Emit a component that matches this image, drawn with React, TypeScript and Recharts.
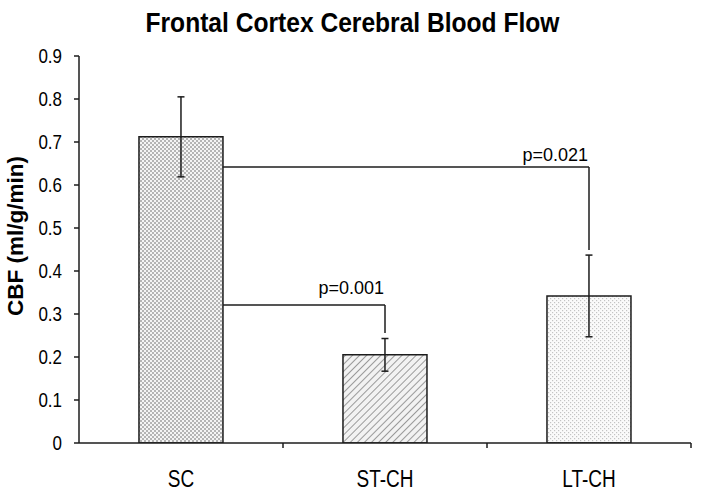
import React from 'react';
import { BarChart, Bar, XAxis, YAxis, ErrorBar, Cell, ReferenceLine } from 'recharts';

// ---- data ----
const categories = ['SC', 'ST-CH', 'LT-CH'];
const cbfMean = [0.712, 0.205, 0.342];
const cbfErr = [0.093, 0.038, 0.095];
const yTicks = [0, 0.1, 0.2, 0.3, 0.4, 0.5, 0.6, 0.7, 0.8, 0.9];
const pLabels = ['p=0.001', 'p=0.021'];
const bracketFrom = [0, 0];
const bracketTo = [1, 2];
const bracketLevel = [0.321, 0.642];
const bracketDrop = [0.256, 0.449];

// pos = slot centre of each category on a 0..n band scale
const data = categories.map((name, i) => ({ name, pos: i + 0.5, cbf: cbfMean[i], err: cbfErr[i] }));

// ---- styles ----
const BAR_GAP = 0.294;
const FONT = '"Liberation Sans", Arial, Helvetica, sans-serif';
const INK = '#1c1c1c';
const patternIds = ['patSC', 'patST', 'patLT'];
const labelDy = [-11, -6];

const XTick = (props: any) => {
  const { x, y, payload } = props;
  const half =
    payload && payload.offset ? payload.offset : props.width / (2 * (props.visibleTicksCount || 3));
  return (
    <g>
      <line x1={x + half} y1={y} x2={x + half} y2={y + 5} stroke={INK} strokeWidth={1.5} />
      <text
        transform={`translate(${x},${y + 44}) scale(1,1.3)`}
        textAnchor="middle"
        fontFamily={FONT}
        fontSize={19}
        fill="#000"
      >
        {payload.value}
      </text>
    </g>
  );
};

const YTick = (props: any) => {
  const { x, y, payload } = props;
  return (
    <text
      transform={`translate(${x},${y}) scale(1,1.15)`}
      textAnchor="end"
      dy="0.36em"
      fontFamily={FONT}
      fontSize={17}
      fill="#000"
    >
      {payload.value}
    </text>
  );
};

const PLabel = (props: any) => {
  const { viewBox, text, dy } = props;
  if (!viewBox) return null;
  return (
    <text
      x={viewBox.x + viewBox.width - 1}
      y={viewBox.y + dy}
      textAnchor="end"
      fontFamily={FONT}
      fontSize={18}
      fill="#000"
    >
      {text}
    </text>
  );
};

export default function App() {
  return (
    <div style={{ position: 'absolute', left: 0, top: 0, width: 701, height: 494, background: '#fff' }}>
      <BarChart
        width={701}
        height={494}
        data={data}
        margin={{ top: 56, right: 10, bottom: 0, left: 19 }}
        barCategoryGap={`${BAR_GAP * 100}%`}
      >
        <defs>
          <pattern id="patSC" patternUnits="userSpaceOnUse" width="4" height="4">
            <rect width="4" height="4" fill="#f4f4f4" />
            <rect x="0" y="0" width="2" height="2" fill="#b4b4b4" />
            <rect x="2" y="2" width="2" height="2" fill="#b4b4b4" />
          </pattern>
          <pattern id="patST" patternUnits="userSpaceOnUse" width="5" height="5" patternTransform="rotate(45)">
            <rect width="5" height="5" fill="#f2f2f2" />
            <line x1="0" y1="0" x2="0" y2="5" stroke="#9a9a9a" strokeWidth="2" />
          </pattern>
          <pattern id="patLT" patternUnits="userSpaceOnUse" width="4" height="4">
            <rect width="4" height="4" fill="#fbfbfb" />
            <rect x="0" y="0" width="1.2" height="1.2" fill="#c4c4c4" />
            <rect x="2" y="2" width="1.2" height="1.2" fill="#c4c4c4" />
          </pattern>
        </defs>
        <XAxis
          xAxisId="cat"
          dataKey="name"
          height={51}
          axisLine={{ stroke: INK, strokeWidth: 1.5 }}
          tickLine={false}
          tickSize={0}
          tickMargin={0}
          tick={<XTick />}
          interval={0}
        />
        <XAxis
          xAxisId="num"
          dataKey="pos"
          type="number"
          scale="linear"
          domain={[0, categories.length]}
          hide
          allowDataOverflow
        />
        <YAxis
          width={60}
          domain={[0, 0.9]}
          ticks={yTicks}
          interval={0}
          allowDataOverflow
          axisLine={{ stroke: INK, strokeWidth: 1.5 }}
          tickLine={{ stroke: INK, strokeWidth: 1.5 }}
          tickSize={5}
          tickMargin={12}
          tick={<YTick />}
        />
        <Bar
          xAxisId="cat"
          dataKey="cbf"
          stroke={INK}
          strokeWidth={1.5}
          isAnimationActive={false}
        >
          {data.map((d, i) => (
            <Cell key={d.name} fill={`url(#${patternIds[i]})`} />
          ))}
          <ErrorBar dataKey="err" width={3.5} stroke={INK} strokeWidth={1.5} direction="y" isAnimationActive={false} />
        </Bar>
        {pLabels.map((txt, i) => {
          const xStart = bracketFrom[i] + 1 - BAR_GAP;
          const xEnd = bracketTo[i] + 0.5;
          return (
            <ReferenceLine
              key={`h${i}`}
              xAxisId="num"
              segment={[
                { x: xStart, y: bracketLevel[i] },
                { x: xEnd, y: bracketLevel[i] },
              ]}
              stroke={INK}
              strokeWidth={1.5}
              ifOverflow="visible"
              label={<PLabel text={txt} dy={labelDy[i]} />}
            />
          );
        })}
        {pLabels.map((txt, i) => {
          const xEnd = bracketTo[i] + 0.5;
          return (
            <ReferenceLine
              key={`v${i}`}
              xAxisId="num"
              segment={[
                { x: xEnd, y: bracketLevel[i] },
                { x: xEnd, y: bracketDrop[i] },
              ]}
              stroke={INK}
              strokeWidth={1.5}
              ifOverflow="visible"
            />
          );
        })}
      </BarChart>
      <svg
        width={701}
        height={494}
        style={{ position: 'absolute', left: 0, top: 0, pointerEvents: 'none' }}
      >
        <text
          transform="translate(352.5,32) scale(1,1.13)"
          textAnchor="middle"
          fontFamily={FONT}
          fontWeight="bold"
          fontSize={24.6}
          fill="#000"
        >
          Frontal Cortex Cerebral Blood Flow
        </text>
        <text
          transform="translate(23,236) rotate(-90)"
          textAnchor="middle"
          fontFamily={FONT}
          fontWeight="bold"
          fontSize={22.5}
          fill="#000"
        >
          CBF (ml/g/min)
        </text>
      </svg>
    </div>
  );
}
